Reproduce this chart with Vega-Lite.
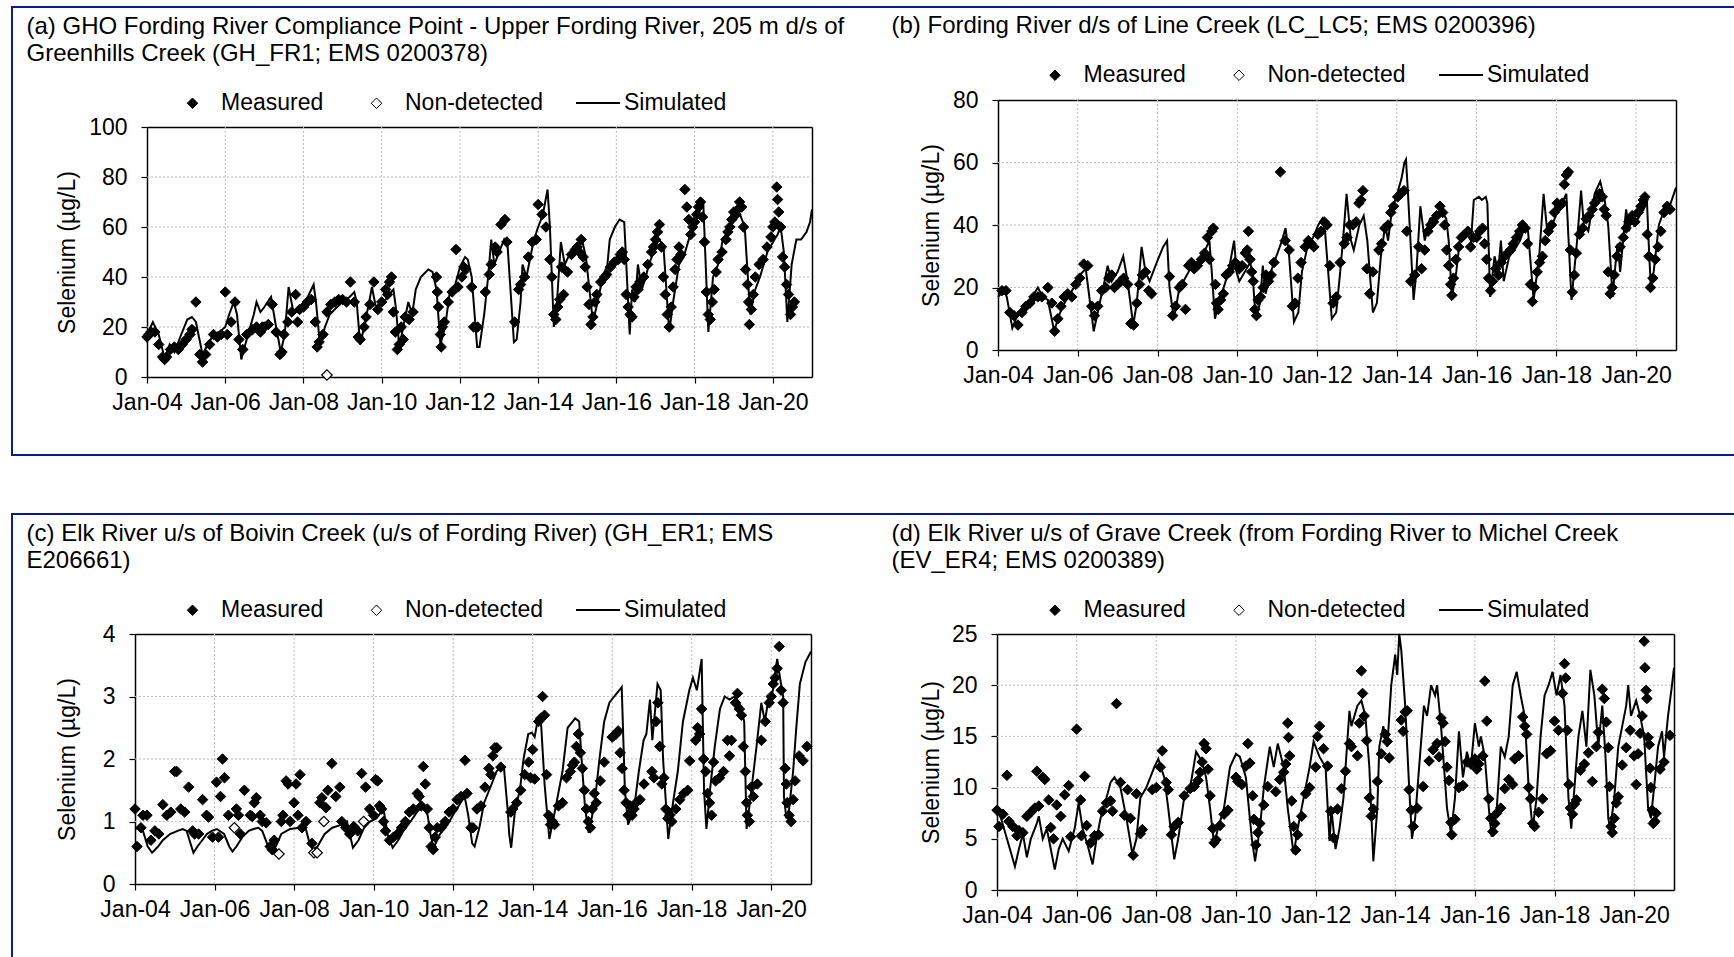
{
"$schema":"https://vega.github.io/schema/vega-lite/v6.json",
"background":"white",
"padding":{"left":11,"top":6,"right":0,"bottom":0},
"spacing":57,
"config":{
 "view":{"stroke":"#0B1C8F","strokeWidth":2},
 "axis":{"labelFont":"Liberation Sans","labelFontSize":23,"labelColor":"black","titleFont":"Liberation Sans","titleColor":"black","titleFontWeight":"normal","domainColor":"black","domainWidth":1.5,"tickColor":"black","tickWidth":1.2,"grid":false,"labelFlush":false,"labelOverlap":false},
 "legend":{"labelFont":"Liberation Sans","labelFontSize":23,"labelColor":"black","padding":0,"labelLimit":400}
},
"datasets":{
"aL":[{"x":2004.0,"y":17},{"x":2004.15,"y":22},{"x":2004.3,"y":17},{"x":2004.45,"y":7.5},{"x":2004.58,"y":13},{"x":2004.7,"y":10},{"x":2004.85,"y":16},{"x":2005.03,"y":23},{"x":2005.15,"y":24},{"x":2005.25,"y":22},{"x":2005.42,"y":9},{"x":2005.55,"y":13},{"x":2005.7,"y":17},{"x":2005.85,"y":18},{"x":2006.0,"y":20},{"x":2006.1,"y":25},{"x":2006.22,"y":30},{"x":2006.3,"y":25},{"x":2006.41,"y":7},{"x":2006.6,"y":18},{"x":2006.73,"y":25},{"x":2006.8,"y":30},{"x":2006.9,"y":26},{"x":2007.0,"y":28},{"x":2007.17,"y":32},{"x":2007.3,"y":20},{"x":2007.42,"y":10},{"x":2007.52,"y":17},{"x":2007.62,"y":36},{"x":2007.73,"y":27},{"x":2007.85,"y":26},{"x":2008.05,"y":30},{"x":2008.17,"y":34},{"x":2008.26,"y":37},{"x":2008.32,"y":30},{"x":2008.42,"y":13},{"x":2008.55,"y":20},{"x":2008.67,"y":25},{"x":2008.86,"y":28},{"x":2009.0,"y":30},{"x":2009.18,"y":32},{"x":2009.3,"y":34},{"x":2009.36,"y":30},{"x":2009.45,"y":13},{"x":2009.55,"y":20},{"x":2009.68,"y":30},{"x":2009.75,"y":36},{"x":2009.85,"y":28},{"x":2010.06,"y":30},{"x":2010.18,"y":33},{"x":2010.3,"y":35},{"x":2010.36,"y":28},{"x":2010.45,"y":12},{"x":2010.55,"y":20},{"x":2010.68,"y":30},{"x":2010.78,"y":25},{"x":2010.87,"y":35},{"x":2011.0,"y":40},{"x":2011.19,"y":43},{"x":2011.3,"y":42},{"x":2011.4,"y":35},{"x":2011.5,"y":13},{"x":2011.62,"y":20},{"x":2011.75,"y":35},{"x":2011.88,"y":37},{"x":2012.0,"y":44},{"x":2012.13,"y":48},{"x":2012.2,"y":47},{"x":2012.3,"y":40},{"x":2012.44,"y":12},{"x":2012.5,"y":12},{"x":2012.62,"y":25},{"x":2012.72,"y":40},{"x":2012.8,"y":55},{"x":2012.88,"y":45},{"x":2013.0,"y":50},{"x":2013.13,"y":55},{"x":2013.22,"y":52},{"x":2013.38,"y":14},{"x":2013.45,"y":15},{"x":2013.55,"y":30},{"x":2013.6,"y":45},{"x":2013.7,"y":40},{"x":2013.89,"y":55},{"x":2014.0,"y":60},{"x":2014.12,"y":65},{"x":2014.24,"y":75},{"x":2014.3,"y":60},{"x":2014.4,"y":20},{"x":2014.48,"y":30},{"x":2014.58,"y":54},{"x":2014.68,"y":45},{"x":2014.83,"y":50},{"x":2015.0,"y":52},{"x":2015.12,"y":55},{"x":2015.22,"y":48},{"x":2015.4,"y":22},{"x":2015.52,"y":30},{"x":2015.65,"y":40},{"x":2015.77,"y":45},{"x":2015.83,"y":55},{"x":2015.96,"y":60},{"x":2016.08,"y":63},{"x":2016.2,"y":62},{"x":2016.34,"y":17},{"x":2016.4,"y":35},{"x":2016.48,"y":30},{"x":2016.55,"y":45},{"x":2016.65,"y":35},{"x":2016.75,"y":40},{"x":2016.83,"y":45},{"x":2016.95,"y":50},{"x":2017.08,"y":55},{"x":2017.2,"y":53},{"x":2017.35,"y":18},{"x":2017.45,"y":30},{"x":2017.6,"y":45},{"x":2017.72,"y":48},{"x":2017.85,"y":55},{"x":2017.97,"y":60},{"x":2018.1,"y":65},{"x":2018.22,"y":70},{"x":2018.35,"y":18},{"x":2018.47,"y":40},{"x":2018.6,"y":45},{"x":2018.72,"y":55},{"x":2018.85,"y":58},{"x":2018.97,"y":62},{"x":2019.16,"y":65},{"x":2019.28,"y":60},{"x":2019.42,"y":25},{"x":2019.55,"y":35},{"x":2019.67,"y":40},{"x":2019.86,"y":50},{"x":2020.04,"y":55},{"x":2020.12,"y":57},{"x":2020.2,"y":60},{"x":2020.28,"y":50},{"x":2020.37,"y":22},{"x":2020.48,"y":45},{"x":2020.6,"y":55},{"x":2020.72,"y":55},{"x":2020.86,"y":58},{"x":2020.95,"y":62},{"x":2021.0,"y":67}],
"aM":[{"x":2004.0,"y":16},{"x":2004.05,"y":17},{"x":2004.1,"y":18},{"x":2004.2,"y":18},{"x":2004.3,"y":13},{"x":2004.4,"y":8},{"x":2004.45,"y":7},{"x":2004.5,"y":8},{"x":2004.6,"y":11},{"x":2004.7,"y":12},{"x":2004.8,"y":11},{"x":2004.9,"y":13},{"x":2005.0,"y":15},{"x":2005.1,"y":17},{"x":2005.15,"y":19},{"x":2005.25,"y":30},{"x":2005.35,"y":9},{"x":2005.42,"y":6},{"x":2005.5,"y":9},{"x":2005.6,"y":13},{"x":2005.7,"y":17},{"x":2005.8,"y":16},{"x":2005.9,"y":17},{"x":2006.0,"y":34},{"x":2006.05,"y":17},{"x":2006.15,"y":22},{"x":2006.25,"y":30},{"x":2006.35,"y":15},{"x":2006.45,"y":11},{"x":2006.55,"y":17},{"x":2006.7,"y":19},{"x":2006.8,"y":20},{"x":2006.9,"y":18},{"x":2006.95,"y":20},{"x":2007.0,"y":20},{"x":2007.1,"y":21},{"x":2007.2,"y":29},{"x":2007.3,"y":18},{"x":2007.4,"y":9},{"x":2007.45,"y":10},{"x":2007.5,"y":17},{"x":2007.6,"y":22},{"x":2007.7,"y":26},{"x":2007.8,"y":33},{"x":2007.85,"y":22},{"x":2007.9,"y":27},{"x":2008.0,"y":28},{"x":2008.1,"y":30},{"x":2008.2,"y":31},{"x":2008.3,"y":22},{"x":2008.35,"y":12},{"x":2008.4,"y":14},{"x":2008.5,"y":17},{"x":2008.6,"y":26},{"x":2008.7,"y":29},{"x":2008.8,"y":30},{"x":2008.9,"y":31},{"x":2009.0,"y":31},{"x":2009.1,"y":30},{"x":2009.2,"y":38},{"x":2009.3,"y":30},{"x":2009.4,"y":16},{"x":2009.45,"y":15},{"x":2009.55,"y":20},{"x":2009.6,"y":24},{"x":2009.7,"y":29},{"x":2009.8,"y":38},{"x":2009.9,"y":27},{"x":2010.0,"y":30},{"x":2010.1,"y":35},{"x":2010.15,"y":33},{"x":2010.2,"y":38},{"x":2010.25,"y":40},{"x":2010.3,"y":26},{"x":2010.35,"y":18},{"x":2010.4,"y":11},{"x":2010.45,"y":13},{"x":2010.5,"y":20},{"x":2010.55,"y":15},{"x":2010.6,"y":24},{"x":2010.7,"y":23},{"x":2010.8,"y":26},{"x":2011.4,"y":40},{"x":2011.42,"y":34},{"x":2011.45,"y":28},{"x":2011.5,"y":17},{"x":2011.52,"y":12},{"x":2011.55,"y":20},{"x":2011.6,"y":22},{"x":2011.7,"y":30},{"x":2011.8,"y":34},{"x":2011.9,"y":51},{"x":2011.95,"y":36},{"x":2012.05,"y":40},{"x":2012.1,"y":44},{"x":2012.15,"y":43},{"x":2012.3,"y":36},{"x":2012.35,"y":20},{"x":2012.45,"y":20},{"x":2012.65,"y":34},{"x":2012.75,"y":41},{"x":2012.8,"y":45},{"x":2012.9,"y":52},{"x":2012.95,"y":50},{"x":2013.05,"y":61},{"x":2013.15,"y":63},{"x":2013.2,"y":54},{"x":2013.4,"y":22},{"x":2013.5,"y":35},{"x":2013.55,"y":37},{"x":2013.65,"y":40},{"x":2013.75,"y":48},{"x":2013.85,"y":54},{"x":2013.95,"y":55},{"x":2014.0,"y":69},{"x":2014.1,"y":65},{"x":2014.2,"y":60},{"x":2014.3,"y":47},{"x":2014.35,"y":40},{"x":2014.4,"y":25},{"x":2014.45,"y":23},{"x":2014.5,"y":28},{"x":2014.55,"y":31},{"x":2014.6,"y":44},{"x":2014.65,"y":33},{"x":2014.75,"y":42},{"x":2014.85,"y":49},{"x":2014.95,"y":51},{"x":2015.0,"y":52},{"x":2015.05,"y":50},{"x":2015.1,"y":55},{"x":2015.15,"y":48},{"x":2015.2,"y":44},{"x":2015.25,"y":36},{"x":2015.3,"y":29},{"x":2015.35,"y":21},{"x":2015.4,"y":24},{"x":2015.45,"y":30},{"x":2015.5,"y":33},{"x":2015.6,"y":38},{"x":2015.7,"y":40},{"x":2015.75,"y":41},{"x":2015.85,"y":44},{"x":2015.95,"y":46},{"x":2016.05,"y":47},{"x":2016.1,"y":49},{"x":2016.15,"y":50},{"x":2016.2,"y":47},{"x":2016.25,"y":33},{"x":2016.3,"y":28},{"x":2016.35,"y":25},{"x":2016.4,"y":24},{"x":2016.45,"y":32},{"x":2016.5,"y":36},{"x":2016.55,"y":35},{"x":2016.6,"y":38},{"x":2016.7,"y":40},{"x":2016.8,"y":45},{"x":2016.9,"y":50},{"x":2016.95,"y":52},{"x":2017.0,"y":55},{"x":2017.05,"y":58},{"x":2017.1,"y":61},{"x":2017.15,"y":52},{"x":2017.2,"y":40},{"x":2017.25,"y":33},{"x":2017.3,"y":25},{"x":2017.35,"y":20},{"x":2017.4,"y":28},{"x":2017.45,"y":36},{"x":2017.5,"y":43},{"x":2017.55,"y":47},{"x":2017.6,"y":52},{"x":2017.65,"y":49},{"x":2017.75,"y":75},{"x":2017.8,"y":68},{"x":2017.85,"y":63},{"x":2017.9,"y":57},{"x":2017.95,"y":60},{"x":2018.0,"y":62},{"x":2018.05,"y":65},{"x":2018.1,"y":68},{"x":2018.15,"y":70},{"x":2018.2,"y":64},{"x":2018.25,"y":54},{"x":2018.3,"y":34},{"x":2018.35,"y":25},{"x":2018.4,"y":23},{"x":2018.45,"y":30},{"x":2018.5,"y":35},{"x":2018.55,"y":42},{"x":2018.6,"y":47},{"x":2018.7,"y":50},{"x":2018.8,"y":55},{"x":2018.85,"y":58},{"x":2018.9,"y":60},{"x":2018.95,"y":63},{"x":2019.0,"y":66},{"x":2019.05,"y":65},{"x":2019.1,"y":67},{"x":2019.15,"y":70},{"x":2019.2,"y":68},{"x":2019.25,"y":60},{"x":2019.3,"y":43},{"x":2019.35,"y":37},{"x":2019.38,"y":30},{"x":2019.4,"y":21},{"x":2019.45,"y":27},{"x":2019.5,"y":33},{"x":2019.55,"y":40},{"x":2019.65,"y":45},{"x":2019.75,"y":47},{"x":2019.85,"y":52},{"x":2019.95,"y":56},{"x":2020.0,"y":60},{"x":2020.05,"y":62},{"x":2020.1,"y":76},{"x":2020.12,"y":71},{"x":2020.15,"y":66},{"x":2020.2,"y":60},{"x":2020.25,"y":48},{"x":2020.3,"y":44},{"x":2020.35,"y":37},{"x":2020.4,"y":33},{"x":2020.45,"y":25},{"x":2020.5,"y":28},{"x":2020.55,"y":30}],
"aN":[{"x":2008.6,"y":0.8}],
"bL":[{"x":2004.0,"y":17},{"x":2004.15,"y":19},{"x":2004.22,"y":17},{"x":2004.36,"y":7},{"x":2004.45,"y":10},{"x":2004.58,"y":13},{"x":2004.72,"y":15},{"x":2004.86,"y":17},{"x":2005.0,"y":20},{"x":2005.12,"y":17},{"x":2005.25,"y":16},{"x":2005.41,"y":6},{"x":2005.5,"y":10},{"x":2005.62,"y":14},{"x":2005.76,"y":17},{"x":2005.9,"y":20},{"x":2006.05,"y":24},{"x":2006.2,"y":26},{"x":2006.4,"y":6},{"x":2006.5,"y":12},{"x":2006.6,"y":18},{"x":2006.64,"y":20},{"x":2006.75,"y":27},{"x":2006.85,"y":22},{"x":2007.0,"y":25},{"x":2007.14,"y":30},{"x":2007.25,"y":22},{"x":2007.39,"y":8},{"x":2007.48,"y":15},{"x":2007.6,"y":33},{"x":2007.7,"y":25},{"x":2007.8,"y":22},{"x":2007.98,"y":28},{"x":2008.14,"y":33},{"x":2008.24,"y":35},{"x":2008.3,"y":20},{"x":2008.41,"y":10},{"x":2008.55,"y":20},{"x":2008.65,"y":22},{"x":2008.82,"y":26},{"x":2008.98,"y":28},{"x":2009.12,"y":30},{"x":2009.23,"y":33},{"x":2009.3,"y":35},{"x":2009.36,"y":25},{"x":2009.44,"y":10},{"x":2009.54,"y":15},{"x":2009.78,"y":25},{"x":2009.92,"y":35},{"x":2009.98,"y":25},{"x":2010.05,"y":22},{"x":2010.19,"y":25},{"x":2010.32,"y":28},{"x":2010.38,"y":25},{"x":2010.46,"y":10},{"x":2010.57,"y":15},{"x":2010.64,"y":27},{"x":2010.71,"y":18},{"x":2010.84,"y":25},{"x":2010.98,"y":30},{"x":2011.12,"y":35},{"x":2011.21,"y":39},{"x":2011.3,"y":30},{"x":2011.42,"y":9},{"x":2011.53,"y":12},{"x":2011.62,"y":25},{"x":2011.76,"y":33},{"x":2011.9,"y":36},{"x":2012.03,"y":40},{"x":2012.13,"y":42},{"x":2012.2,"y":38},{"x":2012.37,"y":10},{"x":2012.48,"y":12},{"x":2012.58,"y":25},{"x":2012.65,"y":35},{"x":2012.74,"y":50},{"x":2012.85,"y":35},{"x":2012.92,"y":32},{"x":2013.06,"y":40},{"x":2013.17,"y":43},{"x":2013.26,"y":35},{"x":2013.4,"y":12},{"x":2013.5,"y":15},{"x":2013.6,"y":30},{"x":2013.71,"y":40},{"x":2013.78,"y":35},{"x":2013.88,"y":45},{"x":2014.01,"y":50},{"x":2014.12,"y":55},{"x":2014.19,"y":60},{"x":2014.23,"y":61},{"x":2014.28,"y":50},{"x":2014.42,"y":16},{"x":2014.49,"y":25},{"x":2014.59,"y":46},{"x":2014.7,"y":35},{"x":2014.83,"y":42},{"x":2014.97,"y":43},{"x":2015.1,"y":45},{"x":2015.24,"y":42},{"x":2015.3,"y":35},{"x":2015.38,"y":17},{"x":2015.49,"y":25},{"x":2015.58,"y":35},{"x":2015.72,"y":38},{"x":2015.86,"y":35},{"x":2015.93,"y":48},{"x":2016.06,"y":49},{"x":2016.13,"y":48},{"x":2016.23,"y":49},{"x":2016.27,"y":47},{"x":2016.34,"y":17},{"x":2016.45,"y":30},{"x":2016.54,"y":25},{"x":2016.61,"y":35},{"x":2016.68,"y":22},{"x":2016.82,"y":30},{"x":2016.95,"y":32},{"x":2017.09,"y":35},{"x":2017.22,"y":40},{"x":2017.29,"y":38},{"x":2017.43,"y":16},{"x":2017.57,"y":30},{"x":2017.68,"y":50},{"x":2017.77,"y":38},{"x":2017.9,"y":40},{"x":2018.04,"y":45},{"x":2018.18,"y":48},{"x":2018.25,"y":50},{"x":2018.38,"y":16},{"x":2018.52,"y":35},{"x":2018.62,"y":51},{"x":2018.69,"y":40},{"x":2018.8,"y":38},{"x":2018.96,"y":50},{"x":2019.1,"y":54},{"x":2019.21,"y":48},{"x":2019.3,"y":40},{"x":2019.41,"y":17},{"x":2019.5,"y":30},{"x":2019.54,"y":34},{"x":2019.6,"y":25},{"x":2019.71,"y":40},{"x":2019.75,"y":45},{"x":2019.82,"y":38},{"x":2019.88,"y":43},{"x":2019.95,"y":40},{"x":2020.09,"y":43},{"x":2020.19,"y":45},{"x":2020.27,"y":48},{"x":2020.33,"y":30},{"x":2020.37,"y":20},{"x":2020.44,"y":25},{"x":2020.57,"y":40},{"x":2020.71,"y":45},{"x":2020.84,"y":46},{"x":2021.0,"y":52}],
"bM":[{"x":2004.1,"y":19},{"x":2004.2,"y":19},{"x":2004.3,"y":12},{"x":2004.4,"y":11},{"x":2004.5,"y":8},{"x":2004.6,"y":12},{"x":2004.7,"y":14},{"x":2004.8,"y":15},{"x":2004.9,"y":17},{"x":2005.0,"y":17},{"x":2005.1,"y":17},{"x":2005.25,"y":20},{"x":2005.35,"y":15},{"x":2005.42,"y":6},{"x":2005.5,"y":10},{"x":2005.58,"y":14},{"x":2005.66,"y":17},{"x":2005.75,"y":18},{"x":2005.85,"y":17},{"x":2005.95,"y":21},{"x":2006.05,"y":23},{"x":2006.15,"y":27.5},{"x":2006.25,"y":27},{"x":2006.35,"y":14},{"x":2006.42,"y":11},{"x":2006.5,"y":14},{"x":2006.6,"y":19},{"x":2006.7,"y":20},{"x":2006.78,"y":23},{"x":2006.85,"y":24},{"x":2006.92,"y":20},{"x":2007.0,"y":21},{"x":2007.08,"y":22},{"x":2007.15,"y":23},{"x":2007.25,"y":21},{"x":2007.33,"y":8.5},{"x":2007.4,"y":8},{"x":2007.48,"y":15},{"x":2007.55,"y":21},{"x":2007.62,"y":24},{"x":2007.7,"y":25},{"x":2007.78,"y":19},{"x":2007.85,"y":18},{"x":2008.3,"y":23.5},{"x":2008.38,"y":11},{"x":2008.45,"y":14},{"x":2008.55,"y":20},{"x":2008.62,"y":21},{"x":2008.7,"y":13},{"x":2008.78,"y":27},{"x":2008.85,"y":28},{"x":2008.92,"y":26},{"x":2009.0,"y":27},{"x":2009.1,"y":29},{"x":2009.18,"y":31},{"x":2009.25,"y":36},{"x":2009.3,"y":29},{"x":2009.36,"y":38},{"x":2009.4,"y":39},{"x":2009.45,"y":21},{"x":2009.48,"y":15},{"x":2009.52,"y":13},{"x":2009.58,"y":16},{"x":2009.65,"y":18},{"x":2009.72,"y":24},{"x":2009.8,"y":25},{"x":2009.88,"y":27},{"x":2009.95,"y":28},{"x":2010.05,"y":26},{"x":2010.12,"y":27},{"x":2010.2,"y":31},{"x":2010.25,"y":32},{"x":2010.28,"y":38},{"x":2010.32,"y":29},{"x":2010.36,"y":25},{"x":2010.4,"y":22},{"x":2010.44,"y":13},{"x":2010.48,"y":11},{"x":2010.52,"y":16},{"x":2010.58,"y":17},{"x":2010.65,"y":20},{"x":2010.72,"y":24},{"x":2010.78,"y":22},{"x":2010.85,"y":24},{"x":2010.92,"y":28},{"x":2011.08,"y":57},{"x":2011.2,"y":35},{"x":2011.3,"y":32},{"x":2011.38,"y":14},{"x":2011.45,"y":15},{"x":2011.52,"y":23},{"x":2011.6,"y":28},{"x":2011.7,"y":33},{"x":2011.78,"y":35},{"x":2011.85,"y":34},{"x":2011.92,"y":33},{"x":2012.02,"y":37},{"x":2012.1,"y":38},{"x":2012.18,"y":41},{"x":2012.25,"y":40},{"x":2012.32,"y":27},{"x":2012.4,"y":15},{"x":2012.48,"y":17},{"x":2012.58,"y":28},{"x":2012.68,"y":34},{"x":2012.75,"y":36},{"x":2012.82,"y":40},{"x":2012.9,"y":40},{"x":2012.98,"y":41},{"x":2013.05,"y":47},{"x":2013.1,"y":48},{"x":2013.15,"y":51},{"x":2013.25,"y":26},{"x":2013.32,"y":18},{"x":2013.4,"y":25},{"x":2013.55,"y":32},{"x":2013.62,"y":34},{"x":2013.7,"y":39},{"x":2013.78,"y":40},{"x":2013.85,"y":44},{"x":2013.92,"y":46},{"x":2014.02,"y":49},{"x":2014.1,"y":50},{"x":2014.18,"y":51},{"x":2014.25,"y":38},{"x":2014.35,"y":22},{"x":2014.45,"y":24},{"x":2014.55,"y":33},{"x":2014.62,"y":26},{"x":2014.7,"y":32},{"x":2014.78,"y":38},{"x":2014.85,"y":40},{"x":2014.92,"y":41},{"x":2015.0,"y":43},{"x":2015.08,"y":46},{"x":2015.15,"y":44},{"x":2015.2,"y":40},{"x":2015.25,"y":32},{"x":2015.3,"y":27},{"x":2015.35,"y":21},{"x":2015.38,"y":17.5},{"x":2015.42,"y":23},{"x":2015.48,"y":29},{"x":2015.55,"y":33},{"x":2015.62,"y":36},{"x":2015.7,"y":37},{"x":2015.78,"y":38},{"x":2015.85,"y":33},{"x":2015.92,"y":36},{"x":2016.0,"y":36},{"x":2016.08,"y":38},{"x":2016.15,"y":39},{"x":2016.2,"y":34},{"x":2016.25,"y":29},{"x":2016.3,"y":23},{"x":2016.35,"y":19},{"x":2016.4,"y":22},{"x":2016.48,"y":26},{"x":2016.55,"y":24},{"x":2016.62,"y":28},{"x":2016.7,"y":30},{"x":2016.78,"y":31},{"x":2016.85,"y":32},{"x":2016.92,"y":34},{"x":2017.0,"y":36},{"x":2017.08,"y":38},{"x":2017.15,"y":40},{"x":2017.22,"y":39},{"x":2017.28,"y":34},{"x":2017.35,"y":21},{"x":2017.4,"y":15.5},{"x":2017.45,"y":20},{"x":2017.52,"y":25},{"x":2017.58,"y":28},{"x":2017.65,"y":30},{"x":2017.72,"y":35},{"x":2017.8,"y":38},{"x":2017.88,"y":40},{"x":2017.95,"y":44},{"x":2018.02,"y":47},{"x":2018.08,"y":46},{"x":2018.15,"y":47},{"x":2018.2,"y":53},{"x":2018.25,"y":56},{"x":2018.3,"y":57},{"x":2018.35,"y":32},{"x":2018.4,"y":18.5},{"x":2018.45,"y":24},{"x":2018.5,"y":31},{"x":2018.58,"y":37},{"x":2018.66,"y":39},{"x":2018.75,"y":42},{"x":2018.82,"y":43},{"x":2018.9,"y":45},{"x":2018.96,"y":47},{"x":2019.02,"y":48},{"x":2019.08,"y":50},{"x":2019.15,"y":49},{"x":2019.2,"y":45},{"x":2019.25,"y":43},{"x":2019.3,"y":25},{"x":2019.35,"y":18},{"x":2019.4,"y":20},{"x":2019.45,"y":24},{"x":2019.52,"y":30},{"x":2019.6,"y":33},{"x":2019.68,"y":36},{"x":2019.75,"y":39},{"x":2019.82,"y":41},{"x":2019.9,"y":43},{"x":2019.97,"y":41},{"x":2020.05,"y":44},{"x":2020.12,"y":46},{"x":2020.18,"y":48},{"x":2020.22,"y":49},{"x":2020.28,"y":37},{"x":2020.32,"y":30},{"x":2020.36,"y":20},{"x":2020.42,"y":23},{"x":2020.48,"y":29},{"x":2020.55,"y":33},{"x":2020.62,"y":38},{"x":2020.7,"y":44},{"x":2020.78,"y":46},{"x":2020.85,"y":45}],
"cL":[{"x":2004.0,"y":0.88},{"x":2004.1,"y":0.9},{"x":2004.2,"y":0.85},{"x":2004.32,"y":0.6},{"x":2004.43,"y":0.5},{"x":2004.58,"y":0.6},{"x":2004.7,"y":0.7},{"x":2004.88,"y":0.8},{"x":2005.07,"y":0.85},{"x":2005.2,"y":0.88},{"x":2005.3,"y":0.85},{"x":2005.37,"y":0.7},{"x":2005.47,"y":0.5},{"x":2005.57,"y":0.6},{"x":2005.69,"y":0.7},{"x":2005.81,"y":0.8},{"x":2005.93,"y":0.85},{"x":2006.06,"y":0.88},{"x":2006.24,"y":0.8},{"x":2006.37,"y":0.6},{"x":2006.45,"y":0.52},{"x":2006.55,"y":0.6},{"x":2006.7,"y":0.75},{"x":2006.86,"y":0.85},{"x":2006.98,"y":0.88},{"x":2007.1,"y":0.9},{"x":2007.2,"y":0.85},{"x":2007.35,"y":0.6},{"x":2007.44,"y":0.5},{"x":2007.54,"y":0.6},{"x":2007.68,"y":0.8},{"x":2007.9,"y":0.88},{"x":2008.15,"y":0.9},{"x":2008.28,"y":0.92},{"x":2008.37,"y":0.7},{"x":2008.47,"y":0.55},{"x":2008.59,"y":0.6},{"x":2008.77,"y":0.8},{"x":2008.96,"y":0.9},{"x":2009.2,"y":0.95},{"x":2009.33,"y":1.0},{"x":2009.4,"y":0.8},{"x":2009.48,"y":0.58},{"x":2009.62,"y":0.7},{"x":2009.76,"y":0.9},{"x":2009.91,"y":1.0},{"x":2010.07,"y":1.05},{"x":2010.25,"y":1.2},{"x":2010.35,"y":0.8},{"x":2010.48,"y":0.58},{"x":2010.62,"y":0.7},{"x":2010.75,"y":0.85},{"x":2010.93,"y":1.0},{"x":2011.09,"y":1.15},{"x":2011.24,"y":1.25},{"x":2011.36,"y":1.1},{"x":2011.43,"y":0.8},{"x":2011.51,"y":0.58},{"x":2011.67,"y":0.8},{"x":2011.86,"y":0.95},{"x":2012.04,"y":1.15},{"x":2012.19,"y":1.3},{"x":2012.29,"y":1.4},{"x":2012.38,"y":1.1},{"x":2012.48,"y":0.65},{"x":2012.54,"y":0.6},{"x":2012.66,"y":0.9},{"x":2012.78,"y":1.3},{"x":2012.97,"y":1.6},{"x":2013.09,"y":1.8},{"x":2013.22,"y":1.9},{"x":2013.28,"y":1.85},{"x":2013.37,"y":1.2},{"x":2013.41,"y":0.8},{"x":2013.46,"y":0.58},{"x":2013.56,"y":1.2},{"x":2013.68,"y":1.5},{"x":2013.77,"y":2.0},{"x":2013.89,"y":2.4},{"x":2013.98,"y":2.42},{"x":2014.05,"y":2.35},{"x":2014.12,"y":2.6},{"x":2014.2,"y":2.7},{"x":2014.3,"y":1.6},{"x":2014.42,"y":0.72},{"x":2014.57,"y":1.2},{"x":2014.75,"y":1.8},{"x":2014.88,"y":2.5},{"x":2015.07,"y":2.65},{"x":2015.17,"y":2.6},{"x":2015.23,"y":2.0},{"x":2015.32,"y":1.2},{"x":2015.41,"y":0.82},{"x":2015.56,"y":1.3},{"x":2015.68,"y":2.0},{"x":2015.8,"y":2.6},{"x":2015.93,"y":2.9},{"x":2016.05,"y":3.0},{"x":2016.18,"y":3.1},{"x":2016.24,"y":3.15},{"x":2016.32,"y":1.5},{"x":2016.4,"y":0.95},{"x":2016.55,"y":1.2},{"x":2016.67,"y":1.8},{"x":2016.79,"y":2.3},{"x":2016.86,"y":2.4},{"x":2016.95,"y":2.95},{"x":2017.01,"y":2.3},{"x":2017.14,"y":3.2},{"x":2017.22,"y":3.1},{"x":2017.28,"y":2.0},{"x":2017.41,"y":0.72},{"x":2017.53,"y":1.3},{"x":2017.65,"y":1.8},{"x":2017.78,"y":2.6},{"x":2017.94,"y":3.1},{"x":2018.03,"y":3.3},{"x":2018.13,"y":3.1},{"x":2018.25,"y":3.6},{"x":2018.31,"y":1.5},{"x":2018.37,"y":0.88},{"x":2018.46,"y":1.5},{"x":2018.58,"y":2.2},{"x":2018.71,"y":2.8},{"x":2018.83,"y":3.0},{"x":2018.95,"y":2.95},{"x":2019.08,"y":3.0},{"x":2019.2,"y":2.9},{"x":2019.32,"y":2.6},{"x":2019.38,"y":0.88},{"x":2019.5,"y":1.5},{"x":2019.63,"y":2.2},{"x":2019.75,"y":2.9},{"x":2019.84,"y":2.6},{"x":2019.94,"y":3.0},{"x":2020.02,"y":3.0},{"x":2020.06,"y":3.2},{"x":2020.15,"y":3.6},{"x":2020.22,"y":3.3},{"x":2020.3,"y":3.0},{"x":2020.32,"y":1.4},{"x":2020.38,"y":1.05},{"x":2020.45,"y":1.2},{"x":2020.55,"y":1.8},{"x":2020.63,"y":2.5},{"x":2020.72,"y":3.2},{"x":2020.86,"y":3.55},{"x":2021.0,"y":3.72}],
"cM":[{"x":2004.0,"y":1.2},{"x":2004.05,"y":0.6},{"x":2004.15,"y":0.9},{"x":2004.2,"y":1.1},{"x":2004.3,"y":1.1},{"x":2004.4,"y":0.7},{"x":2004.5,"y":0.85},{"x":2004.6,"y":0.8},{"x":2004.7,"y":1.27},{"x":2004.8,"y":1.1},{"x":2004.9,"y":1.15},{"x":2005.0,"y":1.8},{"x":2005.05,"y":1.8},{"x":2005.15,"y":1.2},{"x":2005.25,"y":1.15},{"x":2005.35,"y":1.55},{"x":2005.45,"y":0.85},{"x":2005.5,"y":0.8},{"x":2005.6,"y":0.8},{"x":2005.7,"y":1.35},{"x":2005.8,"y":1.1},{"x":2005.85,"y":1.07},{"x":2005.95,"y":0.75},{"x":2006.05,"y":1.63},{"x":2006.1,"y":0.75},{"x":2006.15,"y":1.4},{"x":2006.2,"y":2.0},{"x":2006.25,"y":1.7},{"x":2006.35,"y":1.1},{"x":2006.55,"y":1.2},{"x":2006.6,"y":1.1},{"x":2006.65,"y":0.8},{"x":2006.75,"y":1.5},{"x":2006.9,"y":1.1},{"x":2006.95,"y":1.08},{"x":2007.0,"y":1.3},{"x":2007.05,"y":1.38},{"x":2007.15,"y":1.1},{"x":2007.2,"y":1.0},{"x":2007.3,"y":0.98},{"x":2007.4,"y":0.6},{"x":2007.45,"y":0.55},{"x":2007.5,"y":0.7},{"x":2007.68,"y":1.0},{"x":2007.72,"y":1.1},{"x":2007.8,"y":1.65},{"x":2007.85,"y":1.6},{"x":2007.9,"y":1.0},{"x":2008.0,"y":1.3},{"x":2008.05,"y":1.6},{"x":2008.1,"y":1.1},{"x":2008.15,"y":1.75},{"x":2008.2,"y":0.9},{"x":2008.3,"y":1.0},{"x":2008.45,"y":0.65},{"x":2008.65,"y":1.3},{"x":2008.7,"y":1.38},{"x":2008.8,"y":1.22},{"x":2008.85,"y":1.5},{"x":2008.95,"y":1.93},{"x":2009.05,"y":1.4},{"x":2009.15,"y":1.55},{"x":2009.2,"y":1.0},{"x":2009.3,"y":0.9},{"x":2009.4,"y":0.8},{"x":2009.5,"y":0.92},{"x":2009.6,"y":0.85},{"x":2009.7,"y":1.77},{"x":2009.8,"y":1.55},{"x":2009.9,"y":1.2},{"x":2010.0,"y":1.1},{"x":2010.05,"y":1.67},{"x":2010.1,"y":1.65},{"x":2010.15,"y":1.25},{"x":2010.2,"y":1.2},{"x":2010.25,"y":1.0},{"x":2010.3,"y":0.85},{"x":2010.4,"y":0.7},{"x":2010.5,"y":0.75},{"x":2010.6,"y":0.8},{"x":2010.7,"y":0.9},{"x":2010.8,"y":1.0},{"x":2010.9,"y":1.15},{"x":2011.0,"y":1.2},{"x":2011.1,"y":1.45},{"x":2011.15,"y":1.4},{"x":2011.2,"y":1.25},{"x":2011.25,"y":1.88},{"x":2011.3,"y":1.6},{"x":2011.35,"y":1.2},{"x":2011.4,"y":0.9},{"x":2011.45,"y":0.6},{"x":2011.5,"y":0.55},{"x":2011.55,"y":0.75},{"x":2011.6,"y":0.9},{"x":2011.7,"y":0.9},{"x":2011.8,"y":1.0},{"x":2011.9,"y":1.15},{"x":2012.0,"y":1.2},{"x":2012.1,"y":1.35},{"x":2012.2,"y":1.4},{"x":2012.3,"y":1.98},{"x":2012.35,"y":1.45},{"x":2012.45,"y":0.9},{"x":2012.5,"y":0.9},{"x":2012.6,"y":1.2},{"x":2012.7,"y":1.25},{"x":2012.8,"y":1.55},{"x":2012.9,"y":1.85},{"x":2012.95,"y":1.75},{"x":2013.0,"y":2.05},{"x":2013.05,"y":2.18},{"x":2013.1,"y":2.18},{"x":2013.2,"y":1.87},{"x":2013.45,"y":1.15},{"x":2013.5,"y":1.2},{"x":2013.6,"y":1.3},{"x":2013.7,"y":1.5},{"x":2013.8,"y":1.75},{"x":2013.9,"y":1.95},{"x":2013.95,"y":1.7},{"x":2014.0,"y":2.15},{"x":2014.05,"y":1.68},{"x":2014.15,"y":2.6},{"x":2014.2,"y":2.65},{"x":2014.25,"y":3.0},{"x":2014.3,"y":2.7},{"x":2014.35,"y":1.75},{"x":2014.4,"y":1.1},{"x":2014.45,"y":0.95},{"x":2014.5,"y":1.0},{"x":2014.55,"y":0.95},{"x":2014.65,"y":1.25},{"x":2014.75,"y":1.3},{"x":2014.85,"y":1.7},{"x":2014.95,"y":1.8},{"x":2015.0,"y":1.9},{"x":2015.05,"y":1.95},{"x":2015.1,"y":2.2},{"x":2015.15,"y":2.4},{"x":2015.2,"y":2.1},{"x":2015.25,"y":1.85},{"x":2015.3,"y":1.5},{"x":2015.35,"y":1.2},{"x":2015.4,"y":1.0},{"x":2015.45,"y":0.9},{"x":2015.5,"y":1.2},{"x":2015.55,"y":1.45},{"x":2015.6,"y":1.3},{"x":2015.7,"y":1.65},{"x":2015.8,"y":1.95},{"x":2016.0,"y":2.35},{"x":2016.05,"y":2.38},{"x":2016.1,"y":2.4},{"x":2016.15,"y":2.45},{"x":2016.2,"y":2.1},{"x":2016.25,"y":1.85},{"x":2016.3,"y":1.5},{"x":2016.35,"y":1.3},{"x":2016.4,"y":1.1},{"x":2016.45,"y":1.25},{"x":2016.5,"y":1.1},{"x":2016.55,"y":1.2},{"x":2016.6,"y":1.3},{"x":2016.7,"y":1.35},{"x":2016.8,"y":1.6},{"x":2017.0,"y":1.8},{"x":2017.05,"y":1.7},{"x":2017.1,"y":2.6},{"x":2017.15,"y":2.9},{"x":2017.2,"y":2.2},{"x":2017.25,"y":1.6},{"x":2017.3,"y":1.7},{"x":2017.35,"y":1.2},{"x":2017.4,"y":1.05},{"x":2017.45,"y":1.1},{"x":2017.5,"y":1.0},{"x":2017.6,"y":1.2},{"x":2017.7,"y":1.35},{"x":2017.8,"y":1.45},{"x":2017.9,"y":1.5},{"x":2017.95,"y":1.97},{"x":2018.1,"y":2.3},{"x":2018.15,"y":2.5},{"x":2018.2,"y":2.4},{"x":2018.25,"y":2.8},{"x":2018.3,"y":2.0},{"x":2018.35,"y":1.8},{"x":2018.4,"y":1.45},{"x":2018.45,"y":1.3},{"x":2018.5,"y":1.1},{"x":2018.55,"y":1.95},{"x":2018.6,"y":1.65},{"x":2018.7,"y":1.7},{"x":2018.8,"y":1.8},{"x":2018.9,"y":2.3},{"x":2018.95,"y":2.05},{"x":2019.0,"y":2.3},{"x":2019.1,"y":2.9},{"x":2019.15,"y":3.05},{"x":2019.2,"y":2.8},{"x":2019.25,"y":2.7},{"x":2019.3,"y":2.2},{"x":2019.35,"y":1.8},{"x":2019.38,"y":1.3},{"x":2019.4,"y":1.1},{"x":2019.45,"y":1.0},{"x":2019.5,"y":1.55},{"x":2019.55,"y":1.4},{"x":2019.65,"y":1.6},{"x":2019.75,"y":2.3},{"x":2019.85,"y":2.6},{"x":2019.95,"y":2.9},{"x":2020.0,"y":3.0},{"x":2020.05,"y":3.2},{"x":2020.1,"y":3.3},{"x":2020.15,"y":3.45},{"x":2020.2,"y":3.8},{"x":2020.25,"y":3.1},{"x":2020.3,"y":2.9},{"x":2020.35,"y":1.85},{"x":2020.38,"y":1.6},{"x":2020.4,"y":1.3},{"x":2020.45,"y":1.1},{"x":2020.5,"y":1.0},{"x":2020.55,"y":1.35},{"x":2020.6,"y":1.65},{"x":2020.7,"y":2.05},{"x":2020.8,"y":1.97},{"x":2020.9,"y":2.2}],
"cN":[{"x":2006.5,"y":0.9},{"x":2007.62,"y":0.48},{"x":2008.5,"y":0.5},{"x":2008.58,"y":0.5},{"x":2008.75,"y":1.0},{"x":2009.75,"y":1.0}],
"dL":[{"x":2004.0,"y":7.8},{"x":2004.1,"y":7},{"x":2004.25,"y":5},{"x":2004.45,"y":2.3},{"x":2004.55,"y":4},{"x":2004.65,"y":5.5},{"x":2004.75,"y":3.2},{"x":2004.85,"y":5},{"x":2005.0,"y":6.5},{"x":2005.05,"y":7.2},{"x":2005.15,"y":5},{"x":2005.25,"y":6},{"x":2005.3,"y":5},{"x":2005.45,"y":2},{"x":2005.55,"y":4},{"x":2005.65,"y":5},{"x":2005.8,"y":3.8},{"x":2005.95,"y":6},{"x":2006.05,"y":8.5},{"x":2006.15,"y":6},{"x":2006.3,"y":4},{"x":2006.4,"y":2.5},{"x":2006.5,"y":5},{"x":2006.6,"y":7},{"x":2006.75,"y":9},{"x":2006.85,"y":10.5},{"x":2006.95,"y":11},{"x":2007.1,"y":10},{"x":2007.25,"y":7},{"x":2007.4,"y":3.5},{"x":2007.5,"y":5},{"x":2007.6,"y":9},{"x":2007.75,"y":10},{"x":2007.95,"y":12},{"x":2008.05,"y":12.8},{"x":2008.2,"y":11},{"x":2008.3,"y":8},{"x":2008.45,"y":3},{"x":2008.55,"y":5},{"x":2008.7,"y":9},{"x":2008.85,"y":10},{"x":2009.0,"y":13.5},{"x":2009.15,"y":12.5},{"x":2009.25,"y":11},{"x":2009.35,"y":8},{"x":2009.45,"y":4.5},{"x":2009.55,"y":6},{"x":2009.7,"y":8},{"x":2009.85,"y":12},{"x":2010.0,"y":13.3},{"x":2010.1,"y":13},{"x":2010.25,"y":11},{"x":2010.4,"y":5},{"x":2010.48,"y":2.8},{"x":2010.6,"y":6},{"x":2010.7,"y":10},{"x":2010.85,"y":14},{"x":2010.95,"y":12},{"x":2011.05,"y":14.3},{"x":2011.2,"y":12},{"x":2011.3,"y":8},{"x":2011.45,"y":3.5},{"x":2011.55,"y":6},{"x":2011.7,"y":9},{"x":2011.85,"y":12},{"x":2011.95,"y":14.5},{"x":2012.1,"y":13},{"x":2012.25,"y":12},{"x":2012.35,"y":4.8},{"x":2012.4,"y":7.8},{"x":2012.5,"y":4},{"x":2012.6,"y":6},{"x":2012.7,"y":9},{"x":2012.85,"y":17.5},{"x":2012.9,"y":16},{"x":2013.05,"y":18},{"x":2013.15,"y":18.5},{"x":2013.25,"y":17},{"x":2013.35,"y":12},{"x":2013.45,"y":2.8},{"x":2013.55,"y":8},{"x":2013.6,"y":14},{"x":2013.7,"y":16},{"x":2013.8,"y":14},{"x":2013.9,"y":20},{"x":2014.0,"y":23},{"x":2014.05,"y":21},{"x":2014.1,"y":25},{"x":2014.15,"y":23.5},{"x":2014.25,"y":18},{"x":2014.35,"y":10},{"x":2014.42,"y":5},{"x":2014.5,"y":7},{"x":2014.6,"y":12},{"x":2014.72,"y":18},{"x":2014.8,"y":17},{"x":2014.9,"y":20},{"x":2015.0,"y":19},{"x":2015.05,"y":20},{"x":2015.15,"y":16},{"x":2015.3,"y":8},{"x":2015.4,"y":5.5},{"x":2015.5,"y":9},{"x":2015.6,"y":15.5},{"x":2015.7,"y":11},{"x":2015.8,"y":13.5},{"x":2015.9,"y":12},{"x":2016.0,"y":16.3},{"x":2016.1,"y":14},{"x":2016.15,"y":15},{"x":2016.25,"y":13},{"x":2016.35,"y":8},{"x":2016.42,"y":5.2},{"x":2016.55,"y":8},{"x":2016.65,"y":14},{"x":2016.75,"y":13},{"x":2016.85,"y":15},{"x":2016.95,"y":20},{"x":2017.05,"y":21.3},{"x":2017.15,"y":19},{"x":2017.25,"y":17},{"x":2017.35,"y":10},{"x":2017.45,"y":6},{"x":2017.55,"y":9},{"x":2017.65,"y":15},{"x":2017.75,"y":19},{"x":2017.85,"y":20},{"x":2017.95,"y":21.3},{"x":2018.05,"y":19},{"x":2018.15,"y":21},{"x":2018.25,"y":18},{"x":2018.35,"y":9},{"x":2018.42,"y":6},{"x":2018.5,"y":10},{"x":2018.6,"y":15},{"x":2018.7,"y":17.5},{"x":2018.8,"y":14},{"x":2018.9,"y":21.5},{"x":2019.0,"y":19},{"x":2019.1,"y":14},{"x":2019.2,"y":18},{"x":2019.28,"y":13},{"x":2019.35,"y":7},{"x":2019.4,"y":6},{"x":2019.5,"y":9},{"x":2019.6,"y":14},{"x":2019.7,"y":16},{"x":2019.8,"y":18},{"x":2019.85,"y":20},{"x":2019.92,"y":17},{"x":2020.05,"y":18.5},{"x":2020.15,"y":17},{"x":2020.25,"y":15},{"x":2020.35,"y":8},{"x":2020.42,"y":7},{"x":2020.5,"y":10},{"x":2020.6,"y":14},{"x":2020.7,"y":15.5},{"x":2020.75,"y":13},{"x":2020.85,"y":17},{"x":2020.95,"y":20},{"x":2021.0,"y":21.7}],
"dM":[{"x":2004.0,"y":7.8},{"x":2004.05,"y":6.2},{"x":2004.15,"y":7.4},{"x":2004.25,"y":11.2},{"x":2004.3,"y":6.7},{"x":2004.4,"y":6.2},{"x":2004.5,"y":5.3},{"x":2004.55,"y":5.8},{"x":2004.65,"y":5.6},{"x":2004.75,"y":7.2},{"x":2004.85,"y":7.6},{"x":2004.95,"y":8.0},{"x":2005.0,"y":11.6},{"x":2005.05,"y":8.2},{"x":2005.15,"y":11.0},{"x":2005.2,"y":10.8},{"x":2005.3,"y":8.8},{"x":2005.35,"y":6.1},{"x":2005.42,"y":5.0},{"x":2005.5,"y":8.3},{"x":2005.6,"y":7.2},{"x":2005.7,"y":9.3},{"x":2005.8,"y":10.2},{"x":2005.85,"y":5.2},{"x":2006.0,"y":15.7},{"x":2006.1,"y":8.8},{"x":2006.12,"y":5.3},{"x":2006.2,"y":11.1},{"x":2006.25,"y":6.3},{"x":2006.35,"y":4.6},{"x":2006.45,"y":5.3},{"x":2006.55,"y":5.4},{"x":2006.65,"y":7.7},{"x":2006.75,"y":8.5},{"x":2006.85,"y":8.7},{"x":2006.9,"y":7.7},{"x":2007.0,"y":18.2},{"x":2007.1,"y":10.5},{"x":2007.2,"y":7.3},{"x":2007.28,"y":9.8},{"x":2007.35,"y":7.0},{"x":2007.42,"y":3.4},{"x":2007.5,"y":9.4},{"x":2007.6,"y":5.5},{"x":2007.65,"y":5.9},{"x":2007.9,"y":9.8},{"x":2008.0,"y":10.0},{"x":2008.1,"y":12.0},{"x":2008.15,"y":13.6},{"x":2008.25,"y":10.5},{"x":2008.3,"y":9.8},{"x":2008.38,"y":5.4},{"x":2008.45,"y":6.2},{"x":2008.55,"y":6.6},{"x":2008.7,"y":9.2},{"x":2008.85,"y":9.9},{"x":2008.95,"y":10.1},{"x":2009.05,"y":10.7},{"x":2009.1,"y":11.5},{"x":2009.15,"y":12.5},{"x":2009.2,"y":14.3},{"x":2009.25,"y":13.8},{"x":2009.3,"y":11.8},{"x":2009.35,"y":9.2},{"x":2009.42,"y":6.0},{"x":2009.45,"y":4.6},{"x":2009.5,"y":4.9},{"x":2009.6,"y":6.3},{"x":2009.7,"y":7.4},{"x":2009.8,"y":7.8},{"x":2010.0,"y":11.0},{"x":2010.05,"y":10.6},{"x":2010.15,"y":10.3},{"x":2010.25,"y":12.1},{"x":2010.3,"y":14.3},{"x":2010.35,"y":12.4},{"x":2010.42,"y":9.2},{"x":2010.45,"y":6.9},{"x":2010.5,"y":4.4},{"x":2010.55,"y":5.6},{"x":2010.6,"y":6.5},{"x":2010.7,"y":8.3},{"x":2010.8,"y":10.1},{"x":2011.0,"y":9.6},{"x":2011.1,"y":10.8},{"x":2011.2,"y":11.5},{"x":2011.25,"y":12.3},{"x":2011.3,"y":16.3},{"x":2011.32,"y":14.9},{"x":2011.35,"y":13.1},{"x":2011.4,"y":8.7},{"x":2011.45,"y":6.2},{"x":2011.5,"y":3.9},{"x":2011.55,"y":5.4},{"x":2011.65,"y":7.2},{"x":2011.75,"y":9.4},{"x":2011.85,"y":10.0},{"x":2012.0,"y":12.0},{"x":2012.05,"y":15.0},{"x":2012.1,"y":16.0},{"x":2012.2,"y":13.8},{"x":2012.3,"y":12.1},{"x":2012.38,"y":7.7},{"x":2012.45,"y":5.1},{"x":2012.55,"y":7.9},{"x":2012.65,"y":9.9},{"x":2012.75,"y":11.6},{"x":2012.85,"y":14.3},{"x":2012.9,"y":14.0},{"x":2013.05,"y":13.1},{"x":2013.1,"y":16.3},{"x":2013.15,"y":21.4},{"x":2013.18,"y":19.2},{"x":2013.22,"y":17.0},{"x":2013.28,"y":14.6},{"x":2013.35,"y":9.0},{"x":2013.4,"y":7.2},{"x":2013.45,"y":7.9},{"x":2013.55,"y":10.6},{"x":2013.65,"y":13.3},{"x":2013.75,"y":15.2},{"x":2013.8,"y":14.5},{"x":2013.85,"y":12.9},{"x":2014.15,"y":16.6},{"x":2014.2,"y":15.5},{"x":2014.25,"y":17.4},{"x":2014.3,"y":17.5},{"x":2014.35,"y":9.8},{"x":2014.4,"y":7.8},{"x":2014.45,"y":6.2},{"x":2014.55,"y":8.0},{"x":2014.7,"y":10.1},{"x":2014.85,"y":12.6},{"x":2014.95,"y":13.7},{"x":2015.05,"y":14.3},{"x":2015.1,"y":13.0},{"x":2015.15,"y":16.8},{"x":2015.2,"y":16.3},{"x":2015.25,"y":14.5},{"x":2015.3,"y":12.0},{"x":2015.35,"y":10.7},{"x":2015.4,"y":6.6},{"x":2015.42,"y":5.4},{"x":2015.5,"y":6.9},{"x":2015.6,"y":10.0},{"x":2015.7,"y":10.2},{"x":2015.8,"y":12.5},{"x":2015.9,"y":12.3},{"x":2016.0,"y":12.8},{"x":2016.05,"y":11.8},{"x":2016.1,"y":12.3},{"x":2016.2,"y":13.1},{"x":2016.25,"y":20.4},{"x":2016.3,"y":16.5},{"x":2016.35,"y":8.9},{"x":2016.4,"y":7.0},{"x":2016.45,"y":5.7},{"x":2016.5,"y":6.5},{"x":2016.55,"y":7.5},{"x":2016.65,"y":8.0},{"x":2016.75,"y":9.9},{"x":2016.85,"y":10.8},{"x":2016.95,"y":10.3},{"x":2017.0,"y":12.8},{"x":2017.1,"y":13.1},{"x":2017.2,"y":16.9},{"x":2017.25,"y":16.0},{"x":2017.3,"y":15.2},{"x":2017.35,"y":10.0},{"x":2017.4,"y":8.9},{"x":2017.45,"y":6.5},{"x":2017.5,"y":6.2},{"x":2017.6,"y":7.6},{"x":2017.7,"y":8.9},{"x":2017.8,"y":13.3},{"x":2017.9,"y":13.6},{"x":2018.0,"y":16.5},{"x":2018.1,"y":15.6},{"x":2018.2,"y":19.2},{"x":2018.25,"y":22.1},{"x":2018.28,"y":20.7},{"x":2018.32,"y":15.6},{"x":2018.36,"y":10.3},{"x":2018.4,"y":8.0},{"x":2018.45,"y":7.4},{"x":2018.5,"y":8.4},{"x":2018.55,"y":8.8},{"x":2018.65,"y":11.7},{"x":2018.75,"y":12.3},{"x":2018.85,"y":13.4},{"x":2018.95,"y":10.6},{"x":2019.05,"y":14.0},{"x":2019.1,"y":15.4},{"x":2019.2,"y":19.6},{"x":2019.25,"y":18.7},{"x":2019.3,"y":16.4},{"x":2019.35,"y":13.9},{"x":2019.38,"y":10.1},{"x":2019.42,"y":6.2},{"x":2019.45,"y":5.6},{"x":2019.5,"y":7.0},{"x":2019.55,"y":8.5},{"x":2019.6,"y":9.1},{"x":2019.7,"y":12.2},{"x":2019.8,"y":13.9},{"x":2019.9,"y":15.6},{"x":2020.0,"y":13.1},{"x":2020.05,"y":10.3},{"x":2020.1,"y":13.3},{"x":2020.15,"y":15.3},{"x":2020.2,"y":17.0},{"x":2020.25,"y":24.3},{"x":2020.27,"y":21.7},{"x":2020.3,"y":19.5},{"x":2020.32,"y":18.7},{"x":2020.35,"y":14.9},{"x":2020.38,"y":14.2},{"x":2020.4,"y":11.9},{"x":2020.42,"y":10.0},{"x":2020.45,"y":7.8},{"x":2020.48,"y":6.5},{"x":2020.52,"y":6.7},{"x":2020.55,"y":7.5},{"x":2020.65,"y":11.8},{"x":2020.75,"y":12.5},{"x":2020.9,"y":15.1}],
"gx":[{"x":2006},{"x":2008},{"x":2010},{"x":2012},{"x":2014},{"x":2016},{"x":2018},{"x":2020}]
},
"vconcat":[
{"width":1733,"height":448,
 "resolve":{"scale":{"x":"independent","y":"independent","fill":"independent","stroke":"independent"},"axis":{"x":"independent","y":"independent"},"legend":{"fill":"independent","stroke":"independent"}},
 "layer":[
 {"resolve":{"axis":{"x":"independent","y":"independent"}},
  "layer":[
  {"data":{"name":"gx"},"mark":{"type":"rule","color":"#BDBDBD","strokeDash":[2,2],"strokeWidth":1},
   "encoding":{"x":{"field":"x","type":"quantitative","axis":null},"y":{"datum":0,"type":"quantitative","axis":null},"y2":{"datum":100}}},
  {"data":{"values":[{"y":20},{"y":40},{"y":60},{"y":80}]},"mark":{"type":"rule","color":"#BDBDBD","strokeDash":[2,2],"strokeWidth":1},
   "encoding":{"y":{"field":"y","type":"quantitative","axis":null},"x":{"datum":2004,"type":"quantitative","axis":null},"x2":{"datum":2021}}},
  {"data":{"name":"aL"},"mark":{"type":"line","strokeWidth":2},
   "encoding":{
    "x":{"field":"x","type":"quantitative","scale":{"domain":[2004,2021],"range":[135,800],"nice":false,"zero":false},
      "axis":{"orient":"bottom","offset":-78,"values":[2004,2006,2008,2010,2012,2014,2016,2018,2020],"labelExpr":"'Jan-' + slice(toString(datum.value), 2)","tickSize":6,"labelPadding":8,"title":null}},
    "y":{"field":"y","type":"quantitative","scale":{"domain":[0,100],"range":[370,120],"nice":false},
      "axis":{"orient":"left","offset":-135,"values":[0,20,40,60,80,100],"tickSize":6,"labelPadding":14,"title":"Selenium (µg/L)","titleX":-80,"titleY":245,"titleAngle":270,"titleAlign":"center","titleBaseline":"middle","titleFontSize":23}},
    "stroke":{"datum":"Simulated","type":"nominal","scale":{"domain":["Simulated"],"range":["black"]},
      "legend":{"orient":"none","legendX":563,"legendY":73,"title":null,"symbolType":"stroke","symbolSize":1936,"symbolStrokeWidth":2,"labelOffset":3}}}},
  {"data":{"name":"aM"},"mark":{"type":"point","shape":"diamond","filled":true,"size":110,"stroke":"black","strokeWidth":1,"opacity":1},
   "encoding":{
    "x":{"field":"x","type":"quantitative","axis":{"orient":"top","offset":-120,"labels":false,"ticks":false,"domain":true,"title":["(a) GHO Fording River Compliance Point - Upper Fording River, 205 m d/s of","Greenhills Creek (GH_FR1; EMS 0200378)"],"titleX":14,"titleY":-94,"titleAlign":"left","titleBaseline":"alphabetic","titleFontSize":24,"titleLineHeight":27.5}},
    "y":{"field":"y","type":"quantitative","axis":{"orient":"right","offset":-933,"labels":false,"ticks":false,"domain":true,"title":null}},
    "fill":{"datum":"Measured","type":"nominal","scale":{"domain":["Measured","Non-detected"],"range":["black","white"]},
      "legend":{"orient":"none","legendX":169,"legendY":84.5,"direction":"horizontal","title":null,"symbolType":"diamond","symbolSize":110,"symbolStrokeColor":"black","symbolStrokeWidth":1,"labelOffset":17,"columnPadding":41,"encode":{"symbols":{"update":{"stroke":{"value":"black"},"strokeWidth":{"value":1}}}}}}}},
  {"data":{"name":"aN"},"mark":{"type":"point","shape":"diamond","filled":true,"size":110,"stroke":"black","strokeWidth":1.2,"opacity":1},
   "encoding":{"x":{"field":"x","type":"quantitative","axis":null},"y":{"field":"y","type":"quantitative","axis":null},"fill":{"datum":"Non-detected","type":"nominal"}}}
  ]},
 {"resolve":{"axis":{"x":"independent","y":"independent"}},
  "layer":[
  {"data":{"name":"gx"},"mark":{"type":"rule","color":"#BDBDBD","strokeDash":[2,2],"strokeWidth":1},
   "encoding":{"x":{"field":"x","type":"quantitative","axis":null},"y":{"datum":0,"type":"quantitative","axis":null},"y2":{"datum":80}}},
  {"data":{"values":[{"y":20},{"y":40},{"y":60}]},"mark":{"type":"rule","color":"#BDBDBD","strokeDash":[2,2],"strokeWidth":1},
   "encoding":{"y":{"field":"y","type":"quantitative","axis":null},"x":{"datum":2004,"type":"quantitative","axis":null},"x2":{"datum":2021}}},
  {"data":{"name":"bL"},"mark":{"type":"line","strokeWidth":2},
   "encoding":{
    "x":{"field":"x","type":"quantitative","scale":{"domain":[2004,2021],"range":[986,1664],"nice":false,"zero":false},
      "axis":{"orient":"bottom","offset":-105,"values":[2004,2006,2008,2010,2012,2014,2016,2018,2020],"labelExpr":"'Jan-' + slice(toString(datum.value), 2)","tickSize":6,"labelPadding":8,"title":null}},
    "y":{"field":"y","type":"quantitative","scale":{"domain":[0,80],"range":[343,93],"nice":false},
      "axis":{"orient":"left","offset":-986,"values":[0,20,40,60,80],"tickSize":6,"labelPadding":14,"title":"Selenium (µg/L)","titleX":-67,"titleY":218,"titleAngle":270,"titleAlign":"center","titleBaseline":"middle","titleFontSize":23}},
    "stroke":{"datum":"Simulated","type":"nominal","scale":{"domain":["Simulated"],"range":["black"]},
      "legend":{"orient":"none","legendX":1426,"legendY":45,"title":null,"symbolType":"stroke","symbolSize":1936,"symbolStrokeWidth":2,"labelOffset":3}}}},
  {"data":{"name":"bM"},"mark":{"type":"point","shape":"diamond","filled":true,"size":110,"stroke":"black","strokeWidth":1,"opacity":1},
   "encoding":{
    "x":{"field":"x","type":"quantitative","axis":{"orient":"top","offset":-93,"labels":false,"ticks":false,"domain":true,"title":"(b) Fording River d/s of Line Creek (LC_LC5; EMS 0200396)","titleX":879,"titleY":-68,"titleAlign":"left","titleBaseline":"alphabetic","titleFontSize":24}},
    "y":{"field":"y","type":"quantitative","axis":{"orient":"right","offset":-69,"labels":false,"ticks":false,"domain":true,"title":null}},
    "fill":{"datum":"Measured","type":"nominal","scale":{"domain":["Measured","Non-detected"],"range":["black","white"]},
      "legend":{"orient":"none","legendX":1031.5,"legendY":56.5,"direction":"horizontal","title":null,"symbolType":"diamond","symbolSize":110,"symbolStrokeColor":"black","symbolStrokeWidth":1,"labelOffset":17,"columnPadding":41,"encode":{"symbols":{"update":{"stroke":{"value":"black"},"strokeWidth":{"value":1}}}}}}}}
  ]}
 ]},
{"width":1733,"height":460,
 "resolve":{"scale":{"x":"independent","y":"independent","fill":"independent","stroke":"independent"},"axis":{"x":"independent","y":"independent"},"legend":{"fill":"independent","stroke":"independent"}},
 "layer":[
 {"resolve":{"axis":{"x":"independent","y":"independent"}},
  "layer":[
  {"data":{"name":"gx"},"mark":{"type":"rule","color":"#BDBDBD","strokeDash":[2,2],"strokeWidth":1},
   "encoding":{"x":{"field":"x","type":"quantitative","axis":null},"y":{"datum":0,"type":"quantitative","axis":null},"y2":{"datum":4}}},
  {"data":{"values":[{"y":1},{"y":2},{"y":3}]},"mark":{"type":"rule","color":"#BDBDBD","strokeDash":[2,2],"strokeWidth":1},
   "encoding":{"y":{"field":"y","type":"quantitative","axis":null},"x":{"datum":2004,"type":"quantitative","axis":null},"x2":{"datum":2021}}},
  {"data":{"name":"cL"},"mark":{"type":"line","strokeWidth":2},
   "encoding":{
    "x":{"field":"x","type":"quantitative","scale":{"domain":[2004,2021],"range":[123,799],"nice":false,"zero":false},
      "axis":{"orient":"bottom","offset":-90,"values":[2004,2006,2008,2010,2012,2014,2016,2018,2020],"labelExpr":"'Jan-' + slice(toString(datum.value), 2)","tickSize":6,"labelPadding":8,"title":null}},
    "y":{"field":"y","type":"quantitative","scale":{"domain":[0,4],"range":[370,120],"nice":false},
      "axis":{"orient":"left","offset":-123,"values":[0,1,2,3,4],"tickSize":6,"labelPadding":14,"title":"Selenium (µg/L)","titleX":-68,"titleY":245,"titleAngle":270,"titleAlign":"center","titleBaseline":"middle","titleFontSize":23}},
    "stroke":{"datum":"Simulated","type":"nominal","scale":{"domain":["Simulated"],"range":["black"]},
      "legend":{"orient":"none","legendX":563,"legendY":73,"title":null,"symbolType":"stroke","symbolSize":1936,"symbolStrokeWidth":2,"labelOffset":3}}}},
  {"data":{"name":"cM"},"mark":{"type":"point","shape":"diamond","filled":true,"size":110,"stroke":"black","strokeWidth":1,"opacity":1},
   "encoding":{
    "x":{"field":"x","type":"quantitative","axis":{"orient":"top","offset":-120,"labels":false,"ticks":false,"domain":true,"title":["(c) Elk River u/s of Boivin Creek (u/s of Fording River) (GH_ER1; EMS","E206661)"],"titleX":14,"titleY":-94,"titleAlign":"left","titleBaseline":"alphabetic","titleFontSize":24,"titleLineHeight":27.5}},
    "y":{"field":"y","type":"quantitative","axis":{"orient":"right","offset":-934,"labels":false,"ticks":false,"domain":true,"title":null}},
    "fill":{"datum":"Measured","type":"nominal","scale":{"domain":["Measured","Non-detected"],"range":["black","white"]},
      "legend":{"orient":"none","legendX":169,"legendY":84.5,"direction":"horizontal","title":null,"symbolType":"diamond","symbolSize":110,"symbolStrokeColor":"black","symbolStrokeWidth":1,"labelOffset":17,"columnPadding":41,"encode":{"symbols":{"update":{"stroke":{"value":"black"},"strokeWidth":{"value":1}}}}}}}},
  {"data":{"name":"cN"},"mark":{"type":"point","shape":"diamond","filled":true,"size":110,"stroke":"black","strokeWidth":1.2,"opacity":1},
   "encoding":{"x":{"field":"x","type":"quantitative","axis":null},"y":{"field":"y","type":"quantitative","axis":null},"fill":{"datum":"Non-detected","type":"nominal"}}}
  ]},
 {"resolve":{"axis":{"x":"independent","y":"independent"}},
  "layer":[
  {"data":{"name":"gx"},"mark":{"type":"rule","color":"#BDBDBD","strokeDash":[2,2],"strokeWidth":1},
   "encoding":{"x":{"field":"x","type":"quantitative","axis":null},"y":{"datum":0,"type":"quantitative","axis":null},"y2":{"datum":25}}},
  {"data":{"values":[{"y":5},{"y":10},{"y":15},{"y":20}]},"mark":{"type":"rule","color":"#BDBDBD","strokeDash":[2,2],"strokeWidth":1},
   "encoding":{"y":{"field":"y","type":"quantitative","axis":null},"x":{"datum":2004,"type":"quantitative","axis":null},"x2":{"datum":2021}}},
  {"data":{"name":"dL"},"mark":{"type":"line","strokeWidth":2},
   "encoding":{
    "x":{"field":"x","type":"quantitative","scale":{"domain":[2004,2021],"range":[985,1662],"nice":false,"zero":false},
      "axis":{"orient":"bottom","offset":-84,"values":[2004,2006,2008,2010,2012,2014,2016,2018,2020],"labelExpr":"'Jan-' + slice(toString(datum.value), 2)","tickSize":6,"labelPadding":8,"title":null}},
    "y":{"field":"y","type":"quantitative","scale":{"domain":[0,25],"range":[376,120],"nice":false},
      "axis":{"orient":"left","offset":-985,"values":[0,5,10,15,20,25],"tickSize":6,"labelPadding":14,"title":"Selenium (µg/L)","titleX":-66,"titleY":248,"titleAngle":270,"titleAlign":"center","titleBaseline":"middle","titleFontSize":23}},
    "stroke":{"datum":"Simulated","type":"nominal","scale":{"domain":["Simulated"],"range":["black"]},
      "legend":{"orient":"none","legendX":1426,"legendY":73,"title":null,"symbolType":"stroke","symbolSize":1936,"symbolStrokeWidth":2,"labelOffset":3}}}},
  {"data":{"name":"dM"},"mark":{"type":"point","shape":"diamond","filled":true,"size":110,"stroke":"black","strokeWidth":1,"opacity":1},
   "encoding":{
    "x":{"field":"x","type":"quantitative","axis":{"orient":"top","offset":-120,"labels":false,"ticks":false,"domain":true,"title":["(d) Elk River u/s of Grave Creek (from Fording River to Michel Creek","(EV_ER4; EMS 0200389)"],"titleX":879,"titleY":-94,"titleAlign":"left","titleBaseline":"alphabetic","titleFontSize":24,"titleLineHeight":27.5}},
    "y":{"field":"y","type":"quantitative","axis":{"orient":"right","offset":-71,"labels":false,"ticks":false,"domain":true,"title":null}},
    "fill":{"datum":"Measured","type":"nominal","scale":{"domain":["Measured","Non-detected"],"range":["black","white"]},
      "legend":{"orient":"none","legendX":1031.5,"legendY":84.5,"direction":"horizontal","title":null,"symbolType":"diamond","symbolSize":110,"symbolStrokeColor":"black","symbolStrokeWidth":1,"labelOffset":17,"columnPadding":41,"encode":{"symbols":{"update":{"stroke":{"value":"black"},"strokeWidth":{"value":1}}}}}}}}
  ]}
 ]}
]
}
